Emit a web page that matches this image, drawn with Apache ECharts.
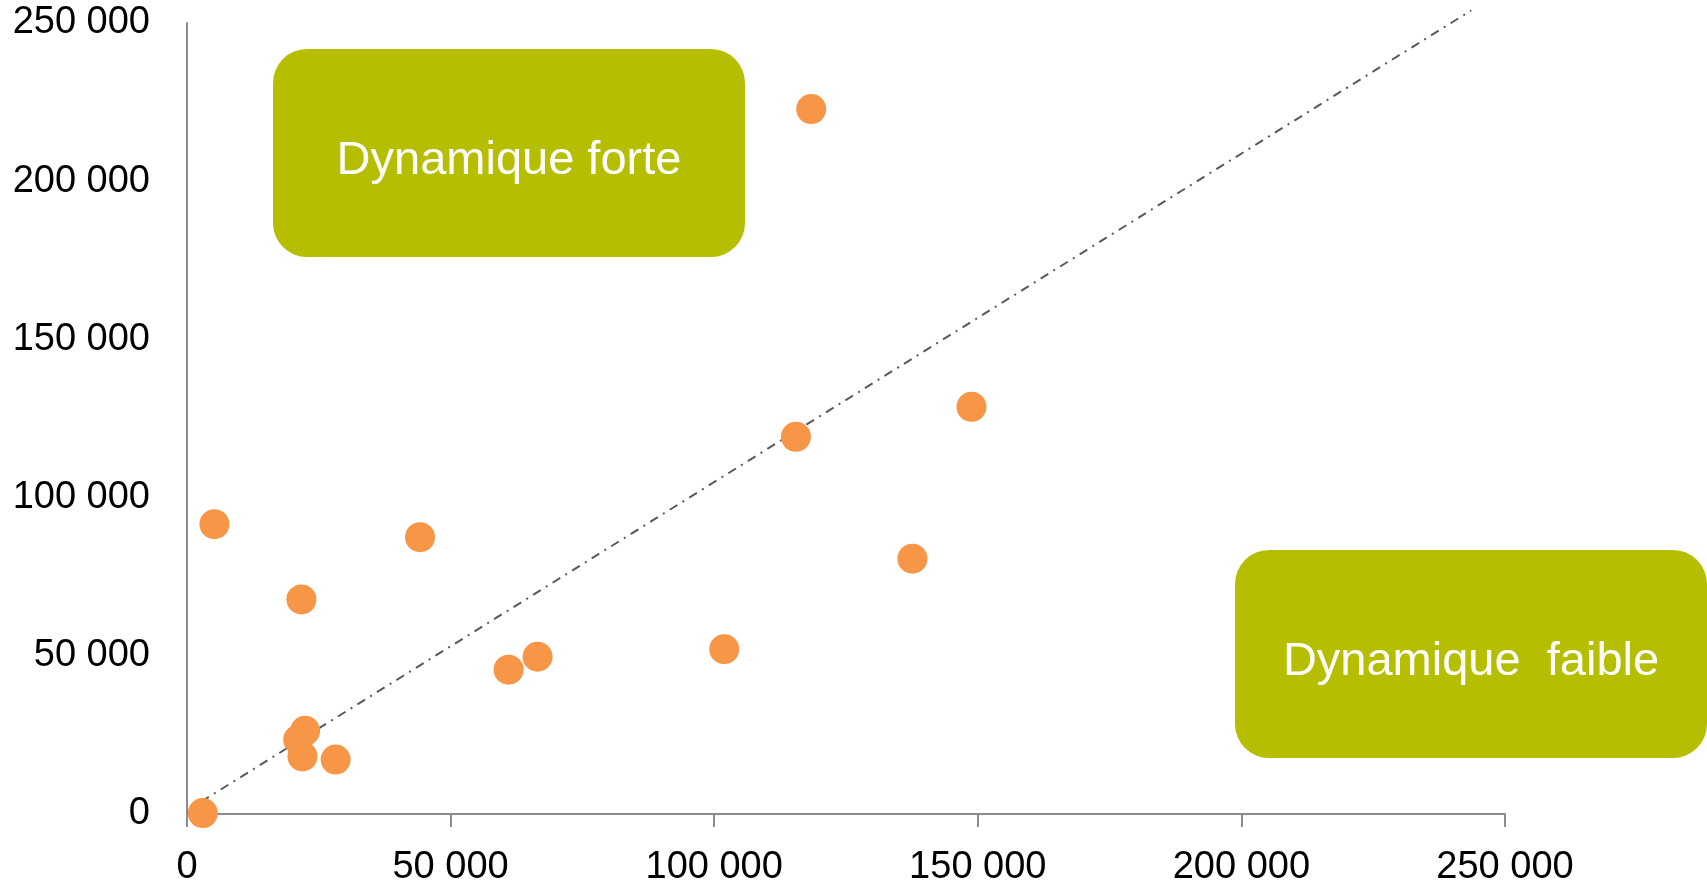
<!DOCTYPE html>
<html>
<head>
<meta charset="utf-8">
<script src="https://cdn.jsdelivr.net/npm/echarts@6/dist/echarts.min.js"></script>
<style>
html,body{margin:0;padding:0;background:#fff;}
#c{width:1707px;height:887px;}
</style>
</head>
<body>
<div id="c"></div>
<script>
// Data
const xValues = [3000, 5200, 21700, 21900, 22400, 21100, 28200, 44200, 61000, 66500, 101900, 115500, 118400, 137600, 148800];
const yValues = [300, 91600, 67800, 18200, 26300, 23500, 17200, 87500, 45600, 49700, 52100, 119200, 222800, 80700, 128700];
const trendX = [2700, 243600];
const trendY = [3900, 254000];
const axisTicks = [0, 50000, 100000, 150000, 200000, 250000];
const boxLabels = ['Dynamique forte', 'Dynamique  faible'];

const points = xValues.map((x, i) => [x, yValues[i]]);
const trend = trendX.map((x, i) => [x, trendY[i]]);
const fmt = v => String(v).replace(/\B(?=(\d{3})+(?!\d))/g, ' ');

const chart = echarts.init(document.getElementById('c'), null, {renderer: 'canvas'});
const FONT = '"Liberation Sans", Arial, sans-serif';
const boxColor = '#B5BE00';

function box(x, y, label) {
  return {
    type: 'group', left: x, top: y, z: 1,
    children: [
      {type: 'rect', shape: {x: 0, y: 0, width: 472, height: 208, r: 34}, style: {fill: boxColor}},
      {type: 'text', x: 236, y: 112, style: {text: label, fill: '#fff', font: '47px ' + FONT, align: 'center', verticalAlign: 'middle'}}
    ]
  };
}

chart.setOption({
  animation: false,
  backgroundColor: '#fff',
  grid: {left: 187, right: 202, top: 23, bottom: 66, containLabel: false},
  xAxis: {
    type: 'value', min: axisTicks[0], max: axisTicks[axisTicks.length - 1], interval: axisTicks[1] - axisTicks[0],
    axisLine: {show: true, onZero: false, lineStyle: {color: '#8c8c8c', width: 2}},
    axisTick: {show: true, length: 13, lineStyle: {color: '#8c8c8c', width: 2}},
    splitLine: {show: false},
    axisLabel: {color: '#000', fontFamily: FONT, fontSize: 38, margin: 35, formatter: fmt}
  },
  yAxis: {
    type: 'value', min: axisTicks[0], max: axisTicks[axisTicks.length - 1], interval: axisTicks[1] - axisTicks[0],
    axisLine: {show: true, onZero: false, lineStyle: {color: '#8c8c8c', width: 2}},
    axisTick: {show: false},
    splitLine: {show: false},
    axisLabel: {color: '#000', fontFamily: FONT, fontSize: 38, margin: 37, formatter: fmt}
  },
  graphic: [box(273, 49, boxLabels[0]), box(1235, 550, boxLabels[1])],
  series: [
    {
      type: 'line', data: trend, clip: false, symbol: 'none', z: 3,
      lineStyle: {color: '#595959', width: 2, type: [9, 6, 2, 6]}
    },
    {
      type: 'scatter', data: points, symbol: 'circle', symbolSize: 30, z: 4, clip: false,
      itemStyle: {color: '#F79646', opacity: 1}
    }
  ]
});
</script>
</body>
</html>
